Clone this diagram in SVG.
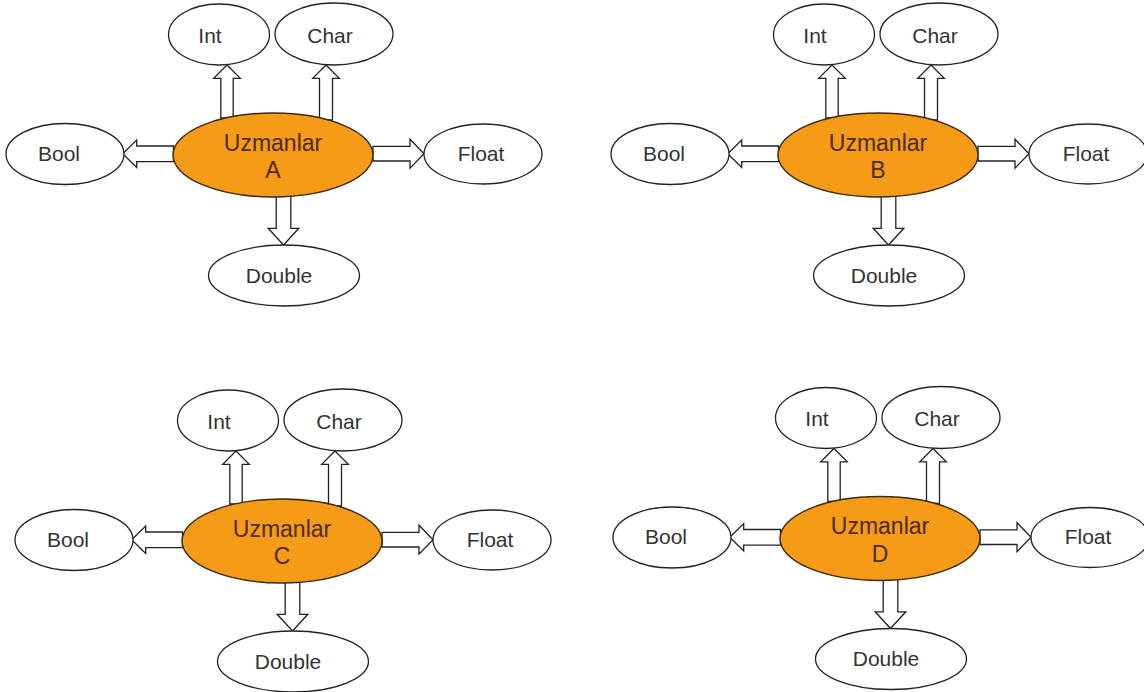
<svg xmlns="http://www.w3.org/2000/svg" width="1144" height="692" viewBox="0 0 1144 692">
<style>
.bg{fill:#ffffff}
.arrow{fill:#ffffff;stroke:#222222;stroke-width:1.3;stroke-linejoin:miter}
.leaf{fill:#ffffff;stroke:#222222;stroke-width:1.3}
.hub{fill:#f59b17;stroke:#3a2a10;stroke-width:1.4}
.lt{font-family:"Liberation Sans",Arial,sans-serif;font-size:21px;fill:#333333;text-anchor:middle}
.ht{font-family:"Liberation Sans",Arial,sans-serif;font-size:23px;fill:#4a2b05;text-anchor:middle}
</style>
<rect class="bg" x="0" y="0" width="1144" height="692"/>
<g id="connectors">
<path class="arrow" d="M220.8,118 V78.3 H213.7 L227,65 L240.3,78.3 H233.2 V118 Z"/>
<path class="arrow" d="M319.5,120 V78.3 H312.7 L326,65 L339.3,78.3 H332.5 V120 Z"/>
<path class="arrow" d="M173.5,146 H136.7 V140.1 L122.7,153.8 L136.7,167.5 V161.6 H173.5 Z"/>
<path class="arrow" d="M373,146.4 H410 V139.2 L424,153.7 L410,168.2 V161 H373 Z"/>
<path class="arrow" d="M276.2,196 V228.3 H268.2 L283.5,245 L298.8,228.3 H290.8 V196 Z"/>
<path class="arrow" d="M825.8,118 V78.3 H818.7 L832,65 L845.3,78.3 H838.2 V118 Z"/>
<path class="arrow" d="M924.5,120 V78.3 H917.7 L931,65 L944.3,78.3 H937.5 V120 Z"/>
<path class="arrow" d="M778.5,146 H741.7 V140.1 L727.7,153.8 L741.7,167.5 V161.6 H778.5 Z"/>
<path class="arrow" d="M978,146.4 H1015 V139.2 L1029,153.7 L1015,168.2 V161 H978 Z"/>
<path class="arrow" d="M881.2,196 V228.3 H873.2 L888.5,245 L903.8,228.3 H895.8 V196 Z"/>
<path class="arrow" d="M229.8,504 V464.3 H222.7 L236,451 L249.3,464.3 H242.2 V504 Z"/>
<path class="arrow" d="M328.5,506 V464.3 H321.7 L335,451 L348.3,464.3 H341.5 V506 Z"/>
<path class="arrow" d="M182.5,532 H145.7 V526.1 L131.7,539.8 L145.7,553.5 V547.6 H182.5 Z"/>
<path class="arrow" d="M382,532.4 H419 V525.2 L433,539.7 L419,554.2 V547 H382 Z"/>
<path class="arrow" d="M285.2,582 V614.3 H277.2 L292.5,631 L307.8,614.3 H299.8 V582 Z"/>
<path class="arrow" d="M827.8,501.5 V461.8 H820.7 L834,448.5 L847.3,461.8 H840.2 V501.5 Z"/>
<path class="arrow" d="M926.5,503.5 V461.8 H919.7 L933,448.5 L946.3,461.8 H939.5 V503.5 Z"/>
<path class="arrow" d="M780.5,529.5 H743.7 V523.6 L729.7,537.3 L743.7,551 V545.1 H780.5 Z"/>
<path class="arrow" d="M980,529.9 H1017 V522.7 L1031,537.2 L1017,551.7 V544.5 H980 Z"/>
<path class="arrow" d="M883.2,579.5 V611.8 H875.2 L890.5,628.5 L905.8,611.8 H897.8 V579.5 Z"/>
</g>
<g id="A-hub"><ellipse class="hub" cx="273" cy="155" rx="100" ry="42"/><text class="ht" x="273" y="150.5">Uzmanlar</text><text class="ht" x="273" y="178.3">A</text></g>
<g id="A-int"><ellipse class="leaf" cx="219" cy="34.5" rx="50.5" ry="30.5"/><text class="lt" x="210" y="42.7">Int</text></g>
<g id="A-char"><ellipse class="leaf" cx="334" cy="34" rx="59" ry="31"/><text class="lt" x="330" y="42.7">Char</text></g>
<g id="A-bool"><ellipse class="leaf" cx="65" cy="154" rx="59" ry="30.5"/><text class="lt" x="59" y="160.7">Bool</text></g>
<g id="A-float"><ellipse class="leaf" cx="483" cy="154" rx="59" ry="30"/><text class="lt" x="481" y="160.7">Float</text></g>
<g id="A-double"><ellipse class="leaf" cx="284" cy="275.5" rx="75.5" ry="30.5"/><text class="lt" x="279" y="282.7">Double</text></g>

<g id="B-hub"><ellipse class="hub" cx="878" cy="155" rx="100" ry="42"/><text class="ht" x="878" y="150.5">Uzmanlar</text><text class="ht" x="878" y="178.3">B</text></g>
<g id="B-int"><ellipse class="leaf" cx="824" cy="34.5" rx="50.5" ry="30.5"/><text class="lt" x="815" y="42.7">Int</text></g>
<g id="B-char"><ellipse class="leaf" cx="939" cy="34" rx="59" ry="31"/><text class="lt" x="935" y="42.7">Char</text></g>
<g id="B-bool"><ellipse class="leaf" cx="670" cy="154" rx="59" ry="30.5"/><text class="lt" x="664" y="160.7">Bool</text></g>
<g id="B-float"><ellipse class="leaf" cx="1088" cy="154" rx="59" ry="30"/><text class="lt" x="1086" y="160.7">Float</text></g>
<g id="B-double"><ellipse class="leaf" cx="889" cy="275.5" rx="75.5" ry="30.5"/><text class="lt" x="884" y="282.7">Double</text></g>

<g id="C-hub"><ellipse class="hub" cx="282" cy="541" rx="100" ry="42"/><text class="ht" x="282" y="536.5">Uzmanlar</text><text class="ht" x="282" y="564.3">C</text></g>
<g id="C-int"><ellipse class="leaf" cx="228" cy="420.5" rx="50.5" ry="30.5"/><text class="lt" x="219" y="428.7">Int</text></g>
<g id="C-char"><ellipse class="leaf" cx="343" cy="420" rx="59" ry="31"/><text class="lt" x="339" y="428.7">Char</text></g>
<g id="C-bool"><ellipse class="leaf" cx="74" cy="540" rx="59" ry="30.5"/><text class="lt" x="68" y="546.7">Bool</text></g>
<g id="C-float"><ellipse class="leaf" cx="492" cy="540" rx="59" ry="30"/><text class="lt" x="490" y="546.7">Float</text></g>
<g id="C-double"><ellipse class="leaf" cx="293" cy="661.5" rx="75.5" ry="30.5"/><text class="lt" x="288" y="668.7">Double</text></g>

<g id="D-hub"><ellipse class="hub" cx="880" cy="538.5" rx="100" ry="42"/><text class="ht" x="880" y="534">Uzmanlar</text><text class="ht" x="880" y="561.8">D</text></g>
<g id="D-int"><ellipse class="leaf" cx="826" cy="418" rx="50.5" ry="30.5"/><text class="lt" x="817" y="426.2">Int</text></g>
<g id="D-char"><ellipse class="leaf" cx="941" cy="417.5" rx="59" ry="31"/><text class="lt" x="937" y="426.2">Char</text></g>
<g id="D-bool"><ellipse class="leaf" cx="672" cy="537.5" rx="59" ry="30.5"/><text class="lt" x="666" y="544.2">Bool</text></g>
<g id="D-float"><ellipse class="leaf" cx="1090" cy="537.5" rx="59" ry="30"/><text class="lt" x="1088" y="544.2">Float</text></g>
<g id="D-double"><ellipse class="leaf" cx="891" cy="659" rx="75.5" ry="30.5"/><text class="lt" x="886" y="666.2">Double</text></g>
</svg>
